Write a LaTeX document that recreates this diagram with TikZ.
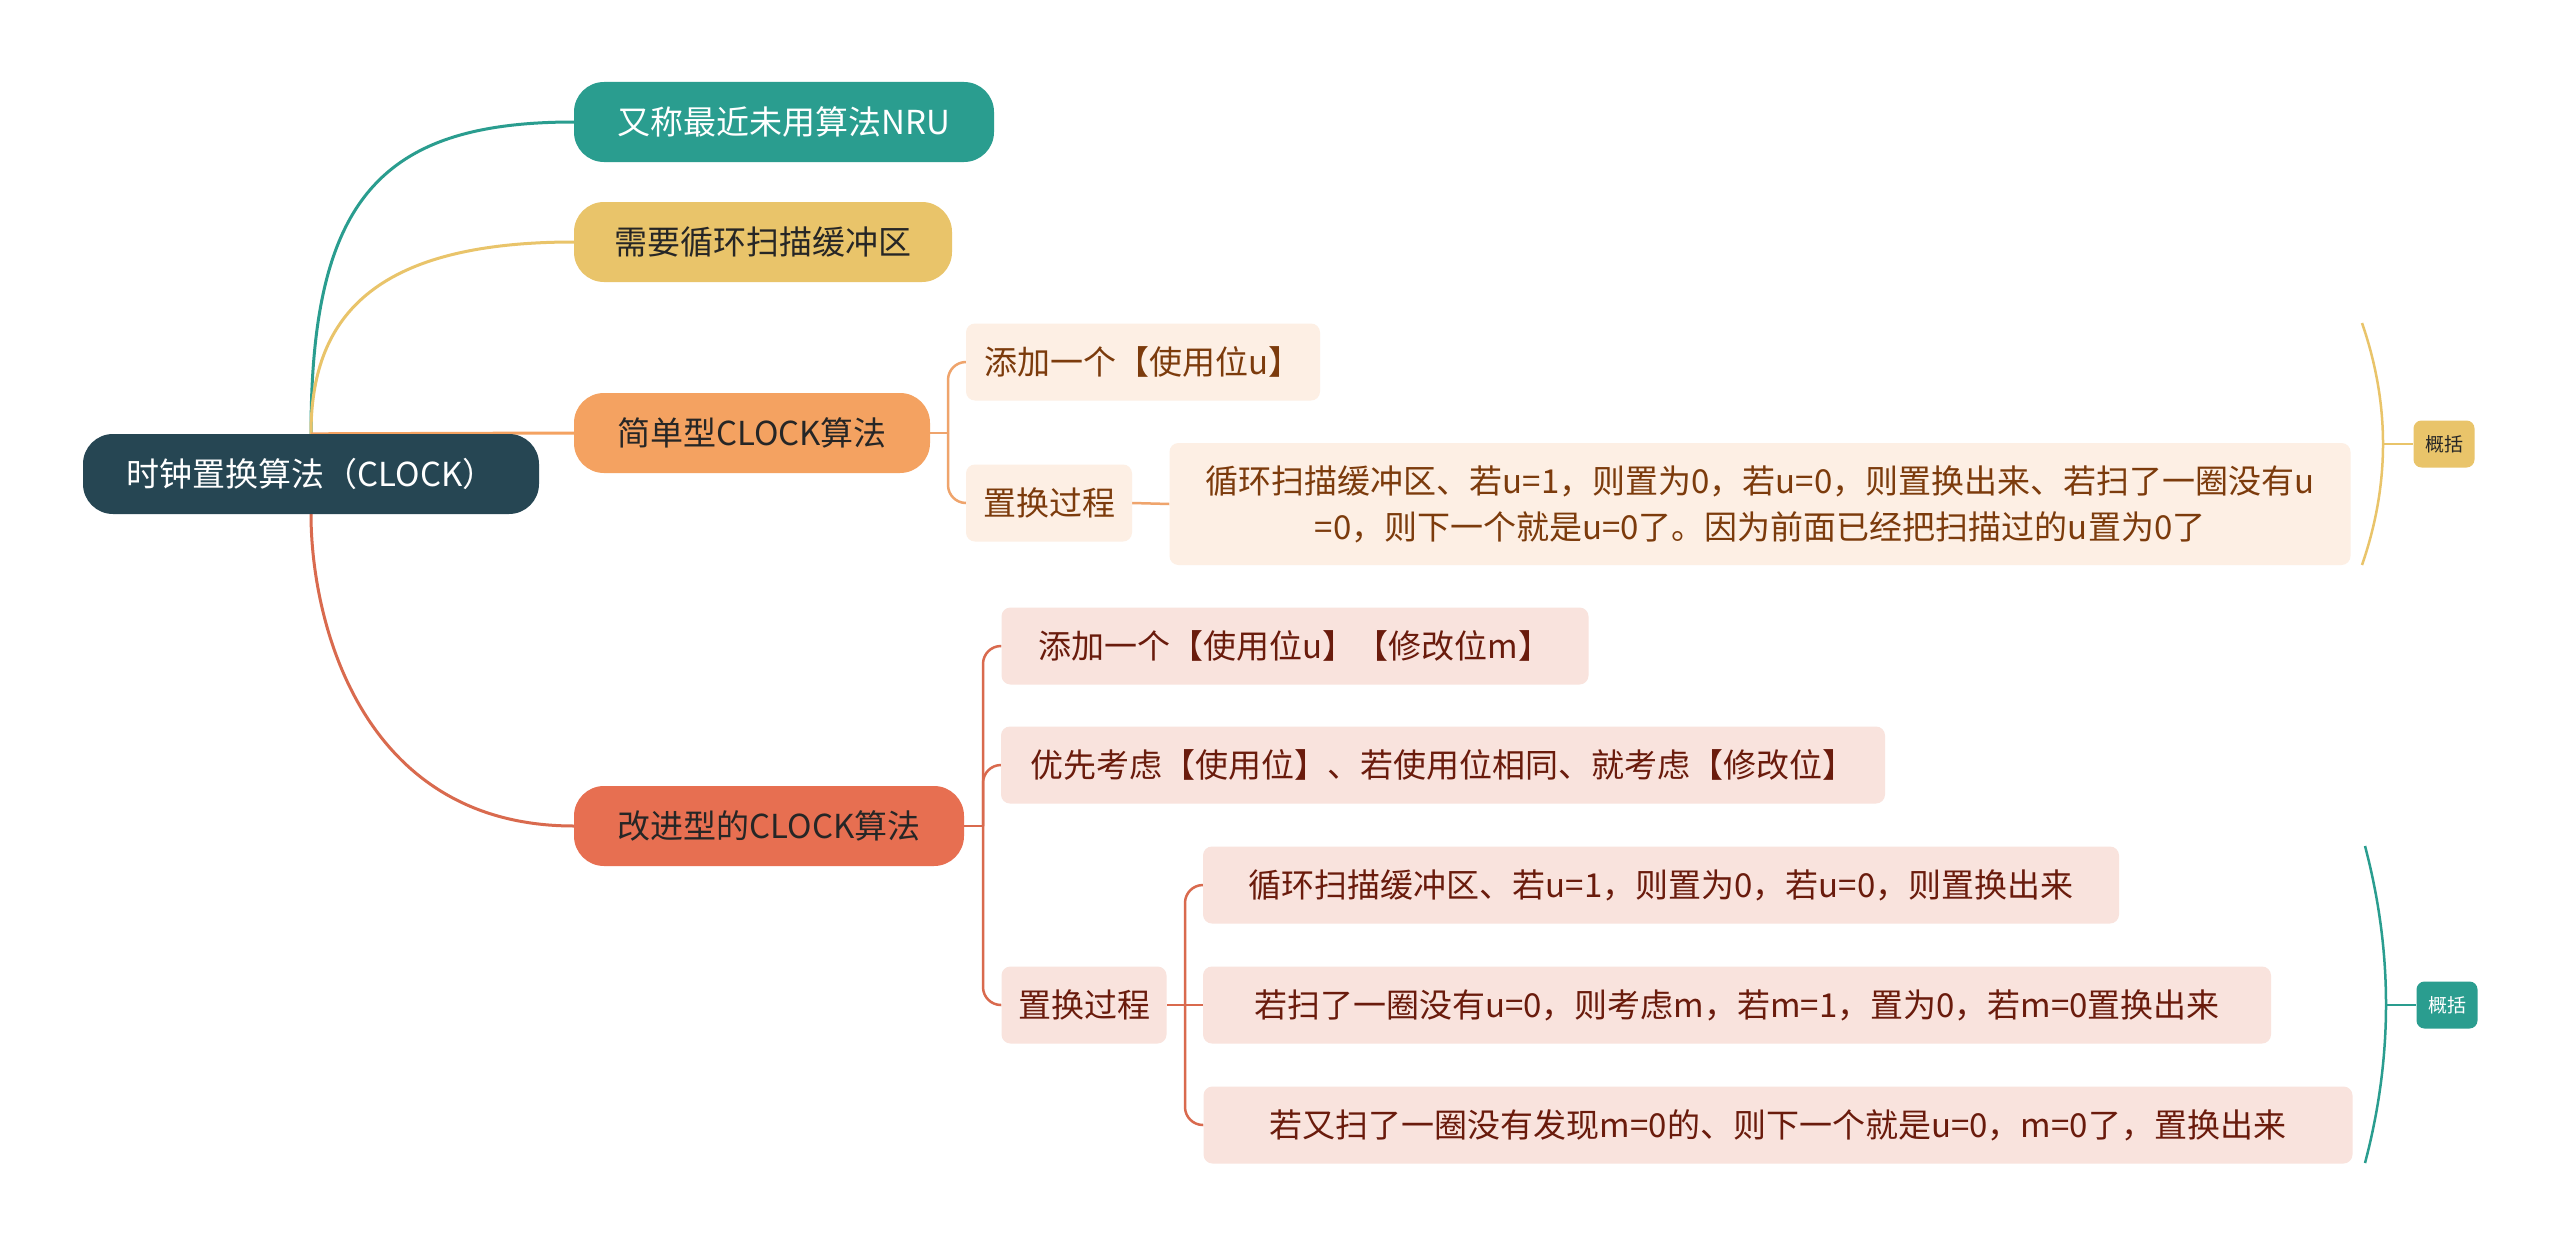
\documentclass[tikz,border=0pt]{standalone}
\usepackage{fontspec}
\setmainfont{Noto Sans CJK SC}
\definecolor{rootc}{HTML}{264653}
\definecolor{tealc}{HTML}{2A9D8F}
\definecolor{yellc}{HTML}{E9C46A}
\definecolor{orngc}{HTML}{F4A261}
\definecolor{redc}{HTML}{E76F51}
\definecolor{redline}{HTML}{D96A4E}
\definecolor{orline}{HTML}{EFA46C}
\definecolor{sfill}{HTML}{FDEFE4}
\definecolor{stext}{HTML}{7C3B0C}
\definecolor{ifill}{HTML}{F9E3DD}
\definecolor{itext}{HTML}{6A1B0C}
\definecolor{darktext}{HTML}{262626}
\pgfdeclarelayer{bg}
\pgfsetlayers{bg,main}
\begin{document}
\begin{tikzpicture}[x=1pt,y=-1pt,
  base/.style={inner sep=0pt, font=\fontsize{33pt}{46pt}\selectfont, align=center},
  mainnode/.style={base, rounded corners=30pt, minimum height=80pt},
  leaf/.style={base, rounded corners=9pt, minimum height=77pt},
  sleaf/.style={leaf, fill=sfill, text=stext},
  ileaf/.style={leaf, fill=ifill, text=itext},
  sumbox/.style={inner sep=0pt, rounded corners=8pt, font=\fontsize{19pt}{22pt}\selectfont, minimum width=61pt, minimum height=47pt},
  mainline/.style={line width=3pt},
  subline/.style={line width=2.5pt, rounded corners=18pt},
  stub/.style={line width=2.5pt},
  bracel/.style={line width=2.5pt}
]
\useasboundingbox (0,0) rectangle (2560,1247);

% main nodes
\node[mainnode, fill=rootc, text=white, minimum width=456pt] (root) at (311,474) {时钟置换算法（CLOCK）};
\node[mainnode, fill=tealc, text=white, minimum width=420pt] (nru) at (784,122) {又称最近未用算法NRU};
\node[mainnode, fill=yellc, text=darktext, minimum width=378pt] (need) at (763,242) {需要循环扫描缓冲区};
\node[mainnode, fill=orngc, text=darktext, minimum width=356pt] (simple) at (752,433) {简单型CLOCK算法};
\node[mainnode, fill=redc, text=darktext, minimum width=390pt] (impr) at (769,826) {改进型的CLOCK算法};

% simple children
\node[sleaf, minimum width=354pt] (s1) at (1143,362) {添加一个【使用位u】};
\node[sleaf, minimum width=166pt] (s2) at (1049,503) {置换过程};
\node[sleaf, minimum width=1181pt, minimum height=122pt] (s3) at (1760,504) {循环扫描缓冲区、若u=1，则置为0，若u=0，则置换出来、若扫了一圈没有u\\=0，则下一个就是u=0了。因为前面已经把扫描过的u置为0了};

% improved children
\node[ileaf, minimum width=587pt] (i1) at (1295,646) {添加一个【使用位u】【修改位m】};
\node[ileaf, minimum width=884pt] (i2) at (1443,765) {优先考虑【使用位】、若使用位相同、就考虑【修改位】};
\node[ileaf, minimum width=165pt] (i3) at (1084,1005) {置换过程};
\node[ileaf, minimum width=916pt] (i4) at (1661,885) {循环扫描缓冲区、若u=1，则置为0，若u=0，则置换出来};
\node[ileaf, minimum width=1068pt] (i5) at (1737,1005) {若扫了一圈没有u=0，则考虑m，若m=1，置为0，若m=0置换出来};
\node[ileaf, minimum width=1149pt] (i6) at (1778,1125) {若又扫了一圈没有发现m=0的、则下一个就是u=0，m=0了，置换出来};

% summaries
\node[sumbox, fill=yellc, text=darktext] (sum1) at (2444,444) {概括};
\node[sumbox, fill=tealc, text=white] (sum2) at (2447,1005) {概括};

\coordinate (js) at (948,433);
\coordinate (ji) at (983,826);
\coordinate (jp) at (1185,1005);
\coordinate (b1) at (2383,444);
\coordinate (b2) at (2386,1005);

\begin{pgfonlayer}{bg}
\fill[white] (0,0) rectangle (2560,1247);
\draw[mainline, tealc] (root.north) .. controls (311,200) and (380,122) .. (nru.west);
\draw[mainline, yellc] (root.north) .. controls (311,320) and (370,242) .. (need.west);
\draw[mainline, orngc] (root.north) -- (simple.west);
\draw[mainline, redline] (root.south) .. controls (311,620) and (360,826) .. (impr.west);

\draw[stub, orline] (simple.east) -- (js);
\draw[subline, orline] (js) |- (s1.west);
\draw[subline, orline] (js) |- (s2.west);
\draw[stub, orline] (s2.east) -- (s3.west);

\draw[stub, redline] (impr.east) -- (ji);
\draw[subline, redline] (ji) |- (i1.west);
\draw[subline, redline] (ji) |- (i2.west);
\draw[subline, redline] (ji) |- (i3.west);
\draw[stub, redline] (i3.east) -- (jp);
\draw[subline, redline] (jp) |- (i4.west);
\draw[subline, redline] (jp) |- (i6.west);
\draw[stub, redline] (jp) -- (i5.west);
\end{pgfonlayer}

% braces
\draw[bracel, yellc] (2362,323) .. controls (2390,404) and (2390,484) .. (2362,565);
\draw[bracel, yellc] (b1) -- (sum1.west);
\draw[bracel, tealc] (2365,846) .. controls (2393,952) and (2393,1057) .. (2365,1163);
\draw[bracel, tealc] (b2) -- (sum2.west);
\end{tikzpicture}
\end{document}
